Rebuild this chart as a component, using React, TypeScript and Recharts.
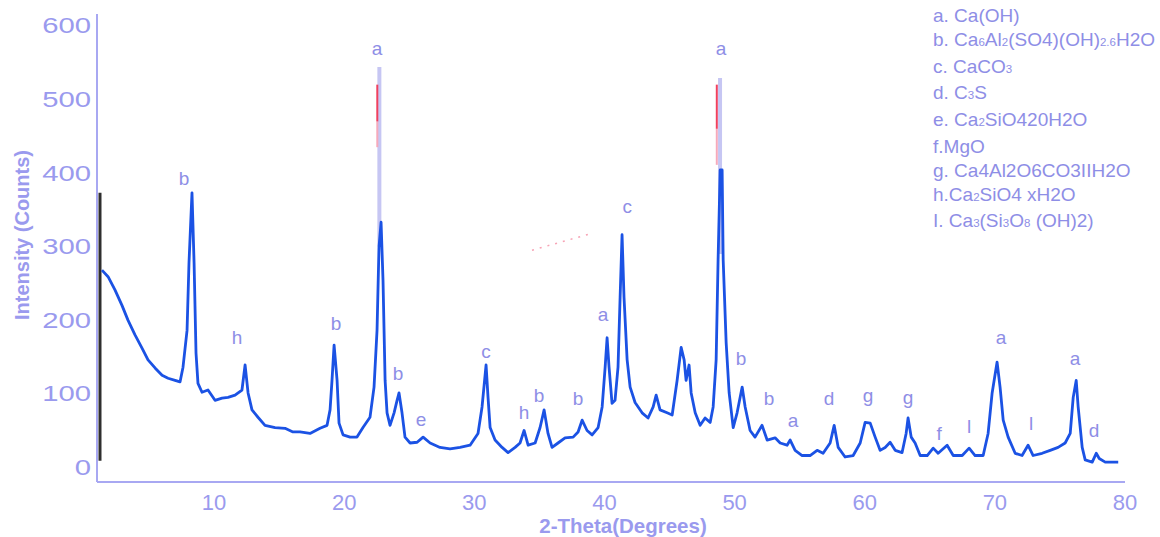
import { ComposedChart, Line, Scatter, XAxis, YAxis, Legend } from "recharts";

const FONT = "'Liberation Sans', Arial, sans-serif";
const TEXT = "#8e8ee6";
const TICK = "#9a9aee";
const AXIS = "#a8a8f2";

// diffractogram: 2-theta (deg) and intensity (counts)
const theta = [
  1.38, 1.85, 2.38, 2.92, 3.38, 3.92, 4.46, 4.92, 5.46, 6.0,
  6.46, 7.0, 7.38, 7.61, 7.92, 8.07, 8.3, 8.46, 8.61, 8.76,
  9.07, 9.53, 10.07, 10.61, 11.07, 11.61, 12.14, 12.38, 12.61, 12.91,
  13.37, 13.91, 14.68, 15.45, 16.06, 16.6, 17.37, 18.14, 18.68, 18.91,
  19.06, 19.22, 19.45, 19.6, 19.91, 20.45, 20.98, 21.44, 21.98, 22.29,
  22.52, 22.67, 22.83, 22.98, 23.14, 23.29, 23.52, 23.83, 24.06, 24.21,
  24.44, 24.67, 25.06, 25.6, 26.06, 26.6, 27.36, 28.13, 28.9, 29.67,
  30.28, 30.59, 30.9, 31.05, 31.21, 31.59, 32.13, 32.59, 33.13, 33.51,
  33.82, 34.13, 34.67, 35.05, 35.36, 35.66, 35.97, 36.43, 36.97, 37.59,
  37.97, 38.28, 38.66, 39.05, 39.51, 39.82, 40.05, 40.2, 40.35, 40.58,
  40.81, 41.04, 41.2, 41.35, 41.5, 41.74, 41.97, 42.35, 42.89, 43.35,
  43.74, 43.97, 44.27, 44.81, 45.2, 45.58, 45.89, 46.12, 46.27, 46.5,
  46.66, 46.97, 47.35, 47.73, 48.12, 48.35, 48.58, 48.73, 48.89, 49.04,
  49.12, 49.35, 49.58, 49.89, 50.19, 50.58, 50.81, 51.19, 51.57, 52.11,
  52.5, 53.11, 53.5, 54.03, 54.27, 54.65, 55.19, 55.8, 56.34, 56.8,
  57.34, 57.65, 57.96, 58.49, 59.11, 59.65, 60.03, 60.42, 60.8, 61.18,
  61.57, 61.95, 62.34, 62.87, 63.18, 63.33, 63.57, 63.87, 64.26, 64.8,
  65.26, 65.64, 66.33, 66.8, 67.49, 68.02, 68.48, 69.1, 69.48, 69.79,
  70.17, 70.4, 70.64, 71.02, 71.56, 72.09, 72.55, 72.94, 73.63, 74.25,
  74.86, 75.4, 75.79, 76.02, 76.25, 76.4, 76.71, 76.94, 77.48, 77.79,
  78.02, 78.48, 79.48,
];
const counts = [
  268, 259, 241, 220, 200, 180, 162, 146, 135, 125,
  121, 118, 116, 136, 186, 278, 373, 278, 155, 114,
  102, 105, 91, 94, 95, 98, 105, 139, 101, 78,
  68, 57, 54, 53, 48, 48, 46, 53, 57, 78,
  118, 166, 118, 60, 44, 41, 41, 54, 68, 109,
  186, 299, 333, 254, 118, 74, 57, 74, 91, 101,
  74, 41, 33, 34, 41, 33, 27, 25, 27, 30,
  46, 82, 139, 95, 54, 37, 27, 20, 27, 33,
  50, 30, 33, 54, 78, 46, 27, 33, 40, 41,
  48, 64, 50, 44, 54, 82, 136, 176, 136, 87,
  91, 136, 231, 316, 231, 146, 109, 88, 74, 67,
  82, 98, 78, 74, 71, 118, 163, 146, 118, 139,
  101, 74, 57, 67, 61, 82, 146, 282, 404, 404,
  282, 169, 101, 54, 74, 109, 82, 50, 41, 57,
  37, 40, 33, 30, 37, 23, 16, 16, 23, 19,
  33, 57, 27, 14, 16, 33, 61, 60, 41, 23,
  27, 34, 23, 20, 46, 67, 41, 33, 16, 16,
  26, 19, 30, 16, 16, 26, 16, 16, 46, 101,
  143, 109, 64, 41, 19, 16, 30, 16, 19, 23,
  27, 33, 46, 95, 118, 82, 27, 10, 7, 19,
  12, 7, 7,
];

// faded tops of the two clipped Ca(OH)2 reflections
const peakTopA1 = [{ x: 22.7, y: 300 }, { x: 22.7, y: 544 }];
const peakTopA2 = [{ x: 48.88, y: 290 }, { x: 48.88, y: 529 }];
// red marker strokes left in the scan
const redMark1 = [{ x: 22.54, y: 470 }, { x: 22.54, y: 520 }];
const redFade1 = [{ x: 22.54, y: 435 }, { x: 22.54, y: 470 }];
const redMark2 = [{ x: 48.63, y: 460 }, { x: 48.63, y: 520 }];
const redFade2 = [{ x: 48.63, y: 411 }, { x: 48.63, y: 460 }];
const redScribble = [{ x: 34.43, y: 295 }, { x: 39.05, y: 318 }];
// the original instrument axis on the left
const innerAxis = [{ x: 1.23, y: 9 }, { x: 1.23, y: 373 }];

// phase letters over the reflections
const labelTheta = [7.69, 11.76, 19.37, 22.52, 24.13, 25.9, 30.9, 33.82, 34.97, 37.97, 39.89, 41.74, 48.96, 50.5, 52.65, 54.49, 57.26, 60.26, 63.33, 65.72, 68.02, 70.48, 72.79, 76.17, 77.63];
const labelCount = [393, 176, 195, 569, 128, 65, 158, 74, 98, 93, 208, 355, 569, 148, 93, 64, 93, 97, 95, 46, 56, 176, 60, 148, 50];
const labelText = ["b", "h", "b", "a", "b", "e", "c", "h", "b", "b", "a", "c", "a", "b", "b", "a", "d", "g", "g", "f", "l", "a", "l", "a", "d"];

const xTicks = [10, 20, 30, 40, 50, 60, 70, 80];
const yTicks = [0, 100, 200, 300, 400, 500, 600];

const legendLines = [
  "a. Ca(OH)",
  "b. Ca~6~Al~2~(SO4)(OH)~2.6~H2O",
  "c. CaCO~3~",
  "d. C~3~S",
  "e. Ca~2~SiO420H2O",
  "f.MgO",
  "g. Ca4Al2O6CO3IIH2O",
  "h.Ca~2~SiO4 xH2O",
  "I. Ca~3~(Si~3~O~8~ (OH)2)",
];

const scan = theta.map((t, i) => ({ x: t, y: counts[i] }));
const peakLabels = labelTheta.map((t, i) => ({ x: t, y: labelCount[i], t: labelText[i] }));

const XTick = ({ x, y, payload }: any) => (
  <text x={x} y={y} textAnchor="middle" dominantBaseline="central" fontSize={22} fill={TICK} fontFamily={FONT}>
    {payload.value}
  </text>
);

// y labels in the figure are visibly stretched sideways
const YTick = ({ x, y, payload }: any) => (
  <g transform={`translate(${x},${y}) scale(1.33,1)`}>
    <text textAnchor="end" dominantBaseline="central" fontSize={22} fill={TICK} fontFamily={FONT}>
      {payload.value}
    </text>
  </g>
);

const PeakLetter = (props: any) => (
  <text x={props.cx} y={props.cy} textAnchor="middle" dominantBaseline="central" fontSize={19} fill={TEXT} fontFamily={FONT}>
    {props.payload.t}
  </text>
);

const YTitle = ({ viewBox }: any) => {
  const cx = viewBox.x + 22;
  const cy = viewBox.y + viewBox.height / 2 - 13;
  return (
    <text x={cx} y={cy} transform={`rotate(-90, ${cx}, ${cy})`} textAnchor="middle" dominantBaseline="central"
      fontSize={20} fontWeight="bold" fill={TICK} fontFamily={FONT}>
      Intensity (Counts)
    </text>
  );
};

const XTitle = ({ viewBox }: any) => (
  <text x={viewBox.x + viewBox.width / 2 + 12} y={viewBox.y + 51} textAnchor="middle"
    fontSize={20.5} fontWeight="bold" fill={TICK} fontFamily={FONT}>
    2-Theta(Degrees)
  </text>
);

const PhaseKey = () => (
  <div style={{ fontFamily: FONT, fontSize: 19, lineHeight: "23.8px", color: TEXT, whiteSpace: "nowrap" }}>
    {legendLines.map((line) => (
      <div key={line}>
        {line.split("~").map((part, i) =>
          i % 2 ? <span key={i} style={{ fontSize: 11.5 }}>{part}</span> : <span key={i}>{part}</span>
        )}
      </div>
    ))}
  </div>
);

export default function App() {
  return (
    <div style={{ position: "absolute", left: 0, top: 0, width: 1160, height: 537, background: "#fff" }}>
      <ComposedChart width={1160} height={537} margin={{ top: 14, right: 35, left: 0, bottom: 0 }}>
        <XAxis
          type="number"
          dataKey="x"
          domain={[1, 80]}
          ticks={xTicks}
          interval={0}
          allowDataOverflow
          height={55}
          tickSize={0}
          tickLine={false}
          tickMargin={20}
          tick={<XTick />}
          stroke={AXIS}
          strokeWidth={2}
          label={{ content: <XTitle /> }}
        />
        <YAxis
          type="number"
          domain={[-20, 616]}
          ticks={yTicks}
          interval={0}
          allowDataOverflow
          width={97}
          tickSize={0}
          tickLine={false}
          tickMargin={6}
          tick={<YTick />}
          stroke={AXIS}
          strokeWidth={2}
          label={{ content: <YTitle /> }}
        />
        <Legend
          layout="vertical"
          align="center"
          verticalAlign="middle"
          content={() => <PhaseKey />}
          wrapperStyle={{ top: 4, left: 933, width: 227 }}
        />
        <Line data={innerAxis} dataKey="y" stroke="#2e2e2e" strokeWidth={3} dot={false} isAnimationActive={false} legendType="none" />
        <Line data={peakTopA1} dataKey="y" stroke="#c6c6f3" strokeWidth={4} dot={false} isAnimationActive={false} legendType="none" />
        <Line data={peakTopA2} dataKey="y" stroke="#c6c6f3" strokeWidth={4} dot={false} isAnimationActive={false} legendType="none" />
        <Line data={redFade1} dataKey="y" stroke="#f6a9bb" strokeWidth={2} dot={false} isAnimationActive={false} legendType="none" />
        <Line data={redMark1} dataKey="y" stroke="#f0405e" strokeWidth={2} dot={false} isAnimationActive={false} legendType="none" />
        <Line data={redFade2} dataKey="y" stroke="#f6a9bb" strokeWidth={2} dot={false} isAnimationActive={false} legendType="none" />
        <Line data={redMark2} dataKey="y" stroke="#f0405e" strokeWidth={2} dot={false} isAnimationActive={false} legendType="none" />
        <Line data={redScribble} dataKey="y" stroke="#f7a3b5" strokeWidth={1.5} strokeDasharray="2 6" dot={false} isAnimationActive={false} legendType="none" />
        <Line
          name="XRD"
          data={scan}
          dataKey="y"
          type="linear"
          stroke="#1b52e4"
          strokeWidth={2.8}
          strokeLinejoin="round"
          dot={false}
          isAnimationActive={false}
        />
        <Scatter data={peakLabels} dataKey="y" shape={<PeakLetter />} isAnimationActive={false} legendType="none" />
      </ComposedChart>
    </div>
  );
}
